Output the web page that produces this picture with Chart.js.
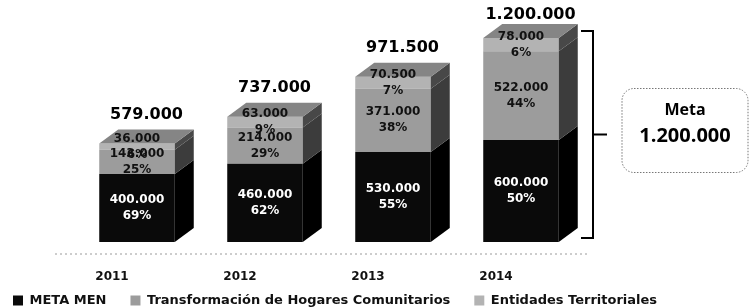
<!DOCTYPE html>
<html>
<head>
<meta charset="utf-8">
<script src="https://cdn.jsdelivr.net/npm/chart.js@4"></script>
<style>
  html, body { margin: 0; padding: 0; background: #fff; }
  #wrap { width: 749px; height: 307px; }
</style>
</head>
<body>
<div id="wrap"><canvas id="grafica"></canvas></div>
<script>
// ---- datos ----
const anios = ['2011', '2012', '2013', '2014'];
const metaMen = [400000, 460000, 530000, 600000];
const transformacion = [143000, 214000, 371000, 522000];
const entidades = [36000, 63000, 70500, 78000];
const pctMetaMen = [69, 62, 55, 50];
const pctTransformacion = [25, 29, 38, 44];
const pctEntidades = [6, 9, 7, 6];
const totales = [579000, 737000, 971500, 1200000];
const metaTotal = 1200000;

const DX = 19, DY = 14;   // profundidad del efecto 3D
const colores = ['#0a0a0a', '#9c9c9c', '#b3b3b3'];
const coloresLado = ['#000000', '#3c3c3c', '#484848'];
const pcts = [pctMetaMen, pctTransformacion, pctEntidades];

function fmt(n) {
  return String(Math.round(n)).replace(/\B(?=(\d{3})+(?!\d))/g, '.');
}

const cubo3d = {
  id: 'cubo3d',
  afterLayout(chart) {
    // la leyenda va un poco más arriba, pegada a los años
    const lg = chart.legend;
    if (lg) { lg.top -= 17; }
  },
  beforeDatasetsDraw(chart) {
    // piso punteado
    const ctx = chart.ctx;
    const yb = chart.scales.y.getPixelForValue(0) + 12;
    ctx.save();
    ctx.strokeStyle = '#9a9a9a';
    ctx.lineWidth = 1;
    ctx.setLineDash([2, 3]);
    ctx.beginPath();
    ctx.moveTo(chart.chartArea.left - 18, yb);
    ctx.lineTo(chart.chartArea.right + 5, yb);
    ctx.stroke();
    ctx.restore();
  },
  afterDatasetsDraw(chart) {
    const ctx = chart.ctx;
    const n = chart.data.datasets.length;
    ctx.save();
    // caras laterales y tapa
    chart.data.datasets.forEach((ds, di) => {
      chart.getDatasetMeta(di).data.forEach((bar) => {
        const { x, y, base, width } = bar.getProps(['x', 'y', 'base', 'width'], true);
        const l = x - width / 2, r = x + width / 2;
        ctx.fillStyle = coloresLado[di];
        ctx.beginPath();
        ctx.moveTo(r, y); ctx.lineTo(r + DX, y - DY);
        ctx.lineTo(r + DX, base - DY); ctx.lineTo(r, base);
        ctx.closePath(); ctx.fill();
        if (di === n - 1) {
          ctx.fillStyle = '#858585';
          ctx.beginPath();
          ctx.moveTo(l, y); ctx.lineTo(l + DX, y - DY);
          ctx.lineTo(r + DX, y - DY); ctx.lineTo(r, y);
          ctx.closePath(); ctx.fill();
        }
      });
    });
    // etiquetas internas
    ctx.textAlign = 'center';
    ctx.textBaseline = 'middle';
    ctx.font = 'bold 12px "DejaVu Sans"';
    chart.data.datasets.forEach((ds, di) => {
      chart.getDatasetMeta(di).data.forEach((bar, i) => {
        const { x, y, base } = bar.getProps(['x', 'y', 'base'], true);
        const cy = (y + base) / 2;
        ctx.fillStyle = di === 0 ? '#ffffff' : '#111111';
        ctx.fillText(fmt(ds.data[i]), x, cy - 8);
        ctx.fillText(pcts[di][i] + '%', x, cy + 8);
      });
    });
    // totales
    const ultimo = chart.getDatasetMeta(n - 1);
    ctx.fillStyle = '#000';
    ctx.font = 'bold 16px "DejaVu Sans"';
    ultimo.data.forEach((bar, i) => {
      const { x, y } = bar.getProps(['x', 'y'], true);
      ctx.fillText(fmt(totales[i]), x + DX / 2, Math.max(y - DY - 15, 15));
    });
    ctx.restore();
  },
  afterDraw(chart) {
    const ctx = chart.ctx;
    const ys = chart.scales.y;
    const area = chart.chartArea;
    const yTop = ys.getPixelForValue(metaTotal) - DY / 2;
    const yBase = ys.getPixelForValue(0) - 4;
    const bx = area.right + 8;
    ctx.save();
    // llave
    ctx.strokeStyle = '#000';
    ctx.lineWidth = 2;
    ctx.beginPath();
    ctx.moveTo(bx - 12, yTop); ctx.lineTo(bx, yTop);
    ctx.lineTo(bx, yBase); ctx.lineTo(bx - 12, yBase);
    const ym = (yTop + yBase) / 2;
    ctx.moveTo(bx, ym); ctx.lineTo(bx + 14, ym);
    ctx.stroke();
    // caja meta
    const bxl = bx + 29, bw = 126, bh = 84, by = ym - bh / 2 - 4;
    ctx.setLineDash([1.5, 1.5]);
    ctx.lineWidth = 1;
    ctx.strokeStyle = '#777';
    ctx.beginPath();
    ctx.roundRect(bxl, by, bw, bh, 12);
    ctx.stroke();
    ctx.setLineDash([]);
    ctx.fillStyle = '#000';
    ctx.textAlign = 'center';
    ctx.textBaseline = 'middle';
    ctx.font = 'bold 16px "Open Sans"';
    ctx.fillText('Meta', bxl + bw / 2, by + 22);
    ctx.font = 'bold 20px "Open Sans"';
    ctx.fillText(fmt(metaTotal), bxl + bw / 2, by + 48);
    ctx.restore();
  }
};

new Chart(document.getElementById('grafica'), {
  type: 'bar',
  data: {
    labels: anios,
    datasets: [
      { label: 'META MEN', data: metaMen, backgroundColor: colores[0] },
      { label: 'Transformación de Hogares Comunitarios', data: transformacion, backgroundColor: colores[1] },
      { label: 'Entidades Territoriales', data: entidades, backgroundColor: colores[2] }
    ]
  },
  options: {
    responsive: true,
    maintainAspectRatio: false,
    animation: false,
    layout: { padding: { left: -11, top: 4, right: 0, bottom: 0 } },
    datasets: { bar: { barPercentage: 0.59, categoryPercentage: 1.0 } },
    plugins: {
      legend: {
        position: 'bottom',
        align: 'start',
        maxHeight: 20,
        labels: {
          boxWidth: 10, boxHeight: 10, padding: 24,
          color: '#111',
          font: { family: '"DejaVu Sans"', size: 13, weight: 'bold' }
        }
      },
      tooltip: { enabled: false }
    },
    scales: {
      x: {
        stacked: true,
        grid: { display: false },
        border: { display: false },
        ticks: {
          color: '#111', labelOffset: -25, padding: 20,
          font: { family: '"DejaVu Sans"', size: 12, weight: 'bold' }
        },
        afterFit: (s) => { s.height = 45; }
      },
      y: {
        stacked: true,
        min: 0, max: 1400000,
        grid: { display: false },
        border: { display: false },
        ticks: { display: false },
        afterFit: (s) => { s.width = 84; }
      },
      yDer: {
        position: 'right',
        grid: { display: false },
        border: { display: false },
        ticks: { display: false },
        afterFit: (s) => { s.width = 164; }
      }
    }
  },
  plugins: [cubo3d]
});
</script>
</body>
</html>
